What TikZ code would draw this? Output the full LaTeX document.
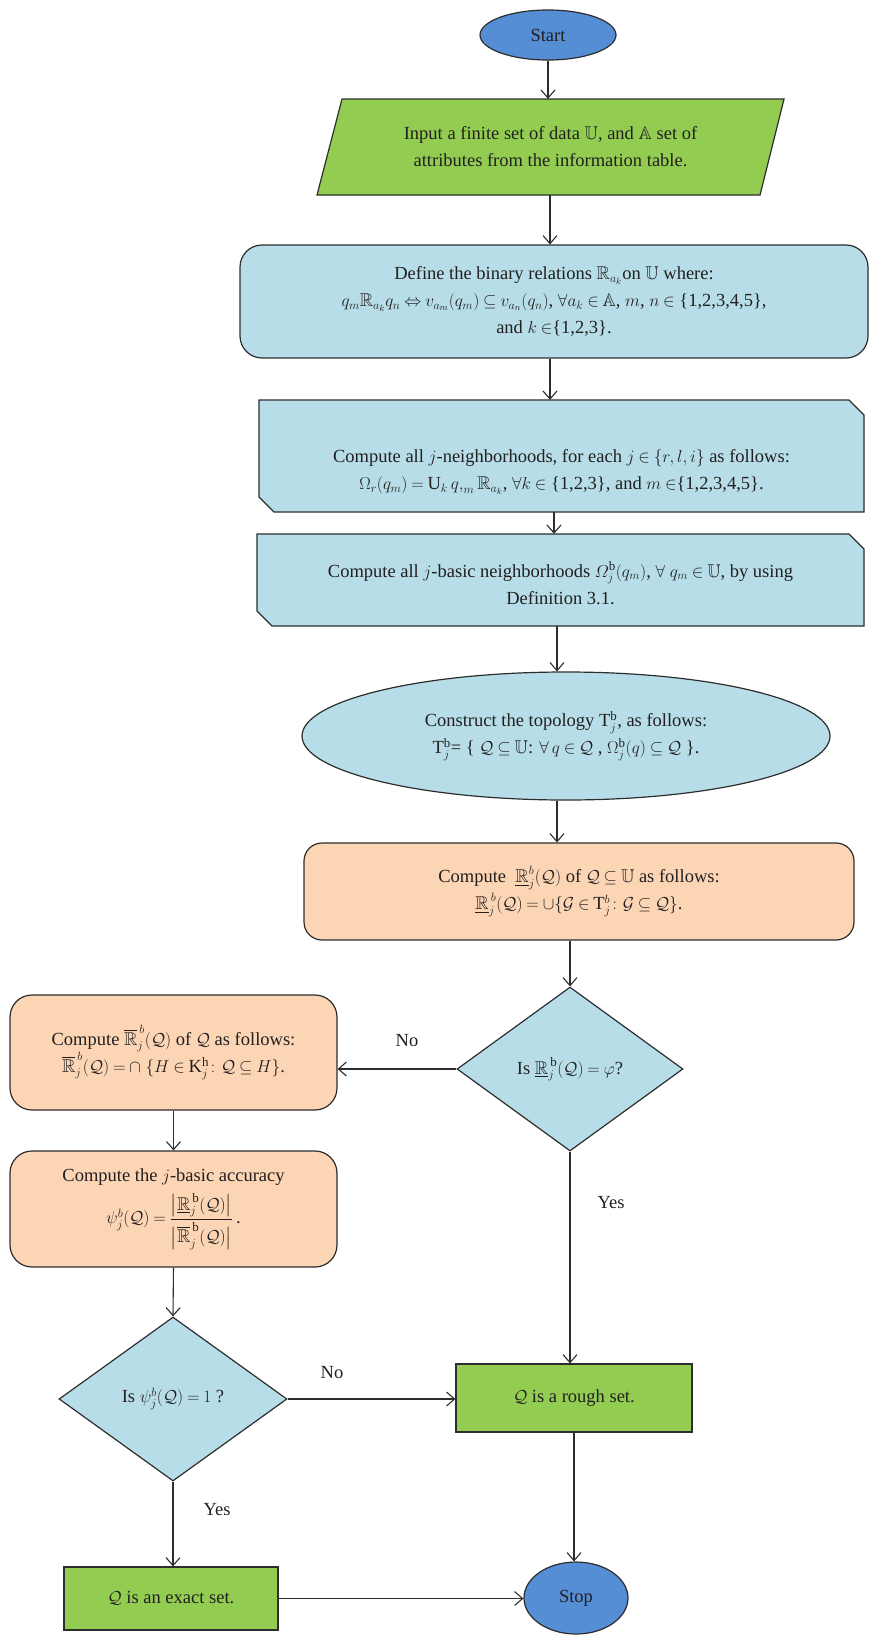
\documentclass[tikz,border=0pt]{standalone}
\usepackage{amsmath,amssymb}
\usepackage{fontspec}
\setmainfont{Liberation Serif}
\usetikzlibrary{shapes.geometric,arrows.meta,calc}
\definecolor{startblue}{RGB}{85,142,213}
\definecolor{flgreen}{RGB}{146,205,82}
\definecolor{lblue}{RGB}{183,222,232}
\definecolor{peach}{RGB}{252,213,181}
\definecolor{edge}{RGB}{45,45,45}
\definecolor{ink}{RGB}{35,31,32}
\thickmuskip=4mu plus 2mu
\medmuskip=3mu plus 1mu
\begin{document}
\begin{tikzpicture}[x=1pt,y=-1pt,
  every node/.style={font=\fontsize{18.5}{27}\selectfont, text=ink, align=center, inner sep=0pt},
  shp/.style={draw=edge, line width=1.2pt},
  arr/.style={draw=edge, line width=1.1pt, -{Straight Barb[length=8pt,width=14pt]}},
  lbl/.style={font=\fontsize{18.5}{20}\selectfont},
]
\useasboundingbox (0,0) rectangle (868,1636);

% Start
\node[ellipse, shp, fill=startblue, minimum width=136pt, minimum height=50pt] (start) at (548,35) {Start};

% Input parallelogram
\draw[shp, fill=flgreen] (342,99) -- (784,99) -- (760,195) -- (317,195) -- cycle;
\node[minimum width=442pt, minimum height=96pt] (input) at (550.5,147)
 {Input a finite set of data $\mathbb{U}$, and $\mathbb{A}$ set of\\ attributes from the information table.};

% Define
\node[shp, fill=lblue, rounded corners=22pt, minimum width=628pt, minimum height=113pt] (define) at (554,301.5)
 {Define the binary relations $\mathbb{R}_{a_k}$on $\mathbb{U}$ where:\\
  $q_m\mathbb{R}_{a_k}q_n \Leftrightarrow v_{a_m}(q_m)\subseteq v_{a_n}(q_n)$, $\forall a_k\in\mathbb{A}$, $m$, $n\in$ \{1,2,3,4,5\},\\
  and $k\in$\{1,2,3\}.};

% j-neighborhoods
\draw[shp, fill=lblue] (259,400) -- (849,400) -- (864,415) -- (864,512) -- (274,512) -- (259,497) -- cycle;
\node[minimum width=605pt, minimum height=112pt] (nbhd) at (561.5,456) {};
\node (nbhdtext) at (561.5,472)
 {Compute all $j$-neighborhoods, for each $j\in\{r, l, i\}$ as follows:\\
  $\Omega_r(q_m) = \mathrm{U}_k\, q{,}_m\, \mathbb{R}_{a_k}$, $\forall k\in$ \{1,2,3\}, and $m\in$\{1,2,3,4,5\}.};

% j-basic neighborhoods
\draw[shp, fill=lblue] (257,534) -- (849,534) -- (864,549) -- (864,626) -- (272,626) -- (257,611) -- cycle;
\node[minimum width=607pt, minimum height=92pt] (basic) at (560.5,580) {};
\node (basictext) at (560.5,583)
 {Compute all $j$-basic neighborhoods $\varOmega_j^{\mathrm{b}}(q_m)$, $\forall\ q_m\in\mathbb{U}$, by using\\ Definition 3.1.};

% topology ellipse
\node[ellipse, shp, fill=lblue, minimum width=528pt, minimum height=128pt] (ell) at (566,736)
 {Construct the topology $\mathrm{T}_j^{\mathrm{b}}$, as follows:\\
  $\mathrm{T}_j^{\mathrm{b}}$= \{ $\mathcal{Q}\subseteq\mathbb{U}$: $\forall\, q\in\mathcal{Q}$ , $\Omega_j^{\mathrm{b}}(q)\subseteq\mathcal{Q}$ \}.};

% lower approximation
\node[shp, fill=peach, rounded corners=18pt, minimum width=550pt, minimum height=97pt] (lower) at (579,891.5)
 {Compute \ $\underline{\mathbb{R}}_j^{b}(\mathcal{Q})$ of $\mathcal{Q}\subseteq\mathbb{U}$ as follows:\\
  $\underline{\mathbb{R}}_j^{\,b}(\mathcal{Q}) = \cup\{\mathcal{G}\in\mathrm{T}_j^b\colon \mathcal{G}\subseteq\mathcal{Q}\}$.};

% decision 1
\node[diamond, shp, fill=lblue, minimum width=226pt, minimum height=164pt] (d1) at (570,1069)
 {Is $\underline{\mathbb{R}}_j^{\,\mathrm{b}}(\mathcal{Q}) = \varphi$?};

% upper approximation
\node[shp, fill=peach, rounded corners=22pt, minimum width=327pt, minimum height=115pt] (upper) at (173.5,1052.5)
 {Compute $\overline{\mathbb{R}}_j^{\,b}(\mathcal{Q})$ of $\mathcal{Q}$ as follows:\\
  $\overline{\mathbb{R}}_j^{\,b}(\mathcal{Q}) = \cap\ \{H\in\mathrm{K}_j^{\mathrm{h}}\colon \mathcal{Q}\subseteq H\}$.};

% accuracy
\node[shp, fill=peach, rounded corners=22pt, minimum width=327pt, minimum height=116pt] (accu) at (173.5,1209)
 {Compute the $j$-basic accuracy\\[7pt]
  $\psi_j^b(\mathcal{Q}) = \dfrac{\bigl|\underline{\mathbb{R}}_j^{\,\mathrm{b}}(\mathcal{Q})\bigr|}{\bigl|\overline{\mathbb{R}}_j^{\,\mathrm{b}}(\mathcal{Q})\bigr|}$\,.};

% decision 2
\node[diamond, shp, fill=lblue, minimum width=228pt, minimum height=164pt] (d2) at (173,1399)
 {Is $\psi_j^b(\mathcal{Q}) = 1$ ?};

% rough set
\node[shp, fill=flgreen, minimum width=236pt, minimum height=68pt] (rough) at (574,1398)
 {$\mathcal{Q}$ is a rough set.};

% exact set
\node[shp, fill=flgreen, minimum width=214pt, minimum height=63pt] (exact) at (171,1598.5)
 {$\mathcal{Q}$ is an exact set.};

% Stop
\node[ellipse, shp, fill=startblue, minimum width=104pt, minimum height=72pt] (stop) at (576,1598) {Stop};

% connectors
\draw[arr] (start.south) -- (start.south |- input.north);
\draw[arr] ([xshift=-0.5pt]input.south) -- ([xshift=-0.5pt]input.south |- define.north);
\draw[arr] ([xshift=-4pt]define.south) -- ([xshift=-4pt]define.south |- nbhd.north);
\draw[arr] ([xshift=-7.5pt]nbhd.south) -- ([xshift=-7.5pt]nbhd.south |- basic.north);
\draw[arr] ([xshift=-3.5pt]basic.south) -- ([xshift=-3.5pt]basic.south |- ell.north);
\draw[arr] ([xshift=-9pt]ell.south) -- ([xshift=-9pt]ell.south |- lower.north);
\draw[arr] ([xshift=-9pt]lower.south) -- (d1.north);
\draw[arr] (d1.west) -- (d1.west -| upper.east);
\draw[arr] (upper.south) -- (accu.north);
\draw[arr] (accu.south) -- (d2.north);
\draw[arr] (d2.east) -- (d2.east -| rough.west);
\draw[arr] (d1.south) -- (d1.south |- rough.north);
\draw[arr] (rough.south) -- (rough.south |- stop.north);
\draw[arr] (d2.south) -- (d2.south |- exact.north);
\draw[arr] (exact.east) -- (exact.east -| stop.west);

% labels
\node[lbl] (no1) at (407,1041) {No};
\node[lbl] (no2) at (332,1373) {No};
\node[lbl] (yes1) at (611,1203) {Yes};
\node[lbl] (yes2) at (217,1510) {Yes};
\end{tikzpicture}
\end{document}
